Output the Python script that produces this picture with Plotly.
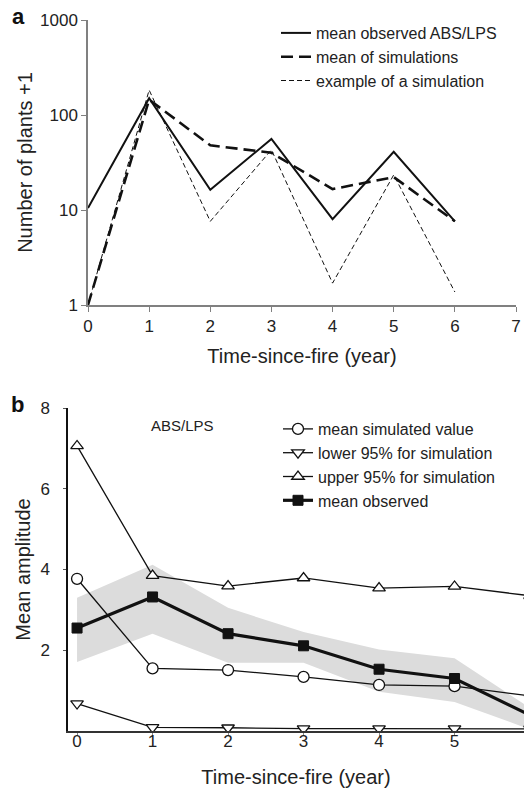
import plotly.graph_objects as go

# ---------- data ----------
years = [0, 1, 2, 3, 4, 5, 6]

# panel a: number of plants + 1 (log scale)
obs_a = [10.5, 150, 16.3, 56, 8.0, 41, 7.6]
sim_mean_a = [1, 145, 48, 40, 16.6, 22.2, 7.6]
sim_example_a = [1, 183, 7.6, 43, 1.7, 23.4, 1.37]
ticks_a_y = [1, 10, 100, 1000]
ticks_a_x = [0, 1, 2, 3, 4, 5, 6, 7]

# panel b: mean amplitude
sim_mean_b = [3.77, 1.55, 1.51, 1.34, 1.14, 1.11, 0.87]
lower95_b = [0.68, 0.09, 0.08, 0.06, 0.06, 0.06, 0.05]
upper95_b = [7.06, 3.85, 3.59, 3.79, 3.54, 3.58, 3.35]
obs_b = [2.55, 3.32, 2.41, 2.11, 1.53, 1.30, 0.39]
band_low_b = [1.71, 2.41, 1.69, 1.69, 0.97, 0.72, 0.04]
band_high_b = [3.30, 4.12, 3.05, 2.45, 2.02, 1.80, 0.57]
ticks_b_y = [2, 4, 6, 8]
ticks_b_x = [0, 1, 2, 3, 4, 5, 6]

FONT = "Liberation Sans, Arial, sans-serif"
W, H = 524, 788

fig = go.Figure()

# ---------- panel a ----------
fig.add_trace(go.Scatter(x=years, y=obs_a, mode="lines", name="mean observed ABS/LPS",
                         line=dict(color="#111", width=2), xaxis="x", yaxis="y",
                         legend="legend"))
fig.add_trace(go.Scatter(x=years, y=sim_mean_a, mode="lines", name="mean of simulations",
                         line=dict(color="#111", width=2.6, dash="12px,6px"),
                         xaxis="x", yaxis="y", legend="legend"))
fig.add_trace(go.Scatter(x=years, y=sim_example_a, mode="lines", name="example of a simulation",
                         line=dict(color="#111", width=1, dash="5px,3px"),
                         xaxis="x", yaxis="y", legend="legend"))

# ---------- panel b ----------
fig.add_trace(go.Scatter(x=years, y=band_low_b, mode="lines", line=dict(width=0, color="#dcdcdc"),
                         showlegend=False, hoverinfo="skip", xaxis="x2", yaxis="y2"))
fig.add_trace(go.Scatter(x=years, y=band_high_b, mode="lines", line=dict(width=0, color="#dcdcdc"),
                         fill="tonexty", fillcolor="#dcdcdc",
                         showlegend=False, hoverinfo="skip", xaxis="x2", yaxis="y2"))
fig.add_trace(go.Scatter(x=years, y=sim_mean_b, mode="lines+markers", name="mean simulated value",
                         line=dict(color="#111", width=1.3),
                         marker=dict(symbol="circle", size=11, color="white",
                                     line=dict(color="#111", width=1.3)),
                         xaxis="x2", yaxis="y2", legend="legend2"))
fig.add_trace(go.Scatter(x=years, y=lower95_b, mode="lines+markers", name="lower 95% for simulation",
                         line=dict(color="#111", width=1.3),
                         marker=dict(symbol="triangle-down", size=11, color="white",
                                     line=dict(color="#111", width=1.3)),
                         xaxis="x2", yaxis="y2", legend="legend2"))
fig.add_trace(go.Scatter(x=years, y=upper95_b, mode="lines+markers", name="upper 95% for simulation",
                         line=dict(color="#111", width=1.3),
                         marker=dict(symbol="triangle-up", size=11, color="white",
                                     line=dict(color="#111", width=1.3)),
                         xaxis="x2", yaxis="y2", legend="legend2"))
fig.add_trace(go.Scatter(x=years, y=obs_b, mode="lines+markers", name="mean observed",
                         line=dict(color="#111", width=3.2),
                         marker=dict(symbol="square", size=10, color="#111",
                                     line=dict(color="#111", width=1)),
                         xaxis="x2", yaxis="y2", legend="legend2"))


def px_x(p):
    """page pixel x -> paper fraction"""
    return p / W


def px_y(p):
    """page pixel y (from top) -> paper fraction (from bottom)"""
    return (H - p) / H


tickfont = dict(family=FONT, size=17, color="#222")
titlefont = dict(family=FONT, size=20, color="#222")

fig.update_layout(
    width=W, height=H,
    margin=dict(l=0, r=0, t=0, b=0, autoexpand=False),
    paper_bgcolor="white", plot_bgcolor="white",
    font=dict(family=FONT, color="#222"),
    xaxis=dict(domain=[px_x(88), px_x(516)], range=[0, 7], anchor="y", automargin=False,
               tickvals=ticks_a_x, showline=True, linecolor="#808080", linewidth=1.5,
               ticks="outside", ticklen=5, tickcolor="#808080", showgrid=False, zeroline=False,
               tickfont=tickfont, ticklabeloverflow="allow",
               title=dict(text="Time-since-fire (year)", font=titlefont, standoff=14)),
    yaxis=dict(domain=[px_y(305), px_y(20)], type="log", range=[0, 3], anchor="x",
               automargin=False,
               tickvals=ticks_a_y, ticktext=[str(v) for v in ticks_a_y],
               showline=True, linecolor="#808080", linewidth=1.5,
               ticks="outside", ticklen=5, tickcolor="#808080", showgrid=False, zeroline=False,
               tickfont=tickfont,
               title=dict(text="Number of plants +1", font=titlefont, standoff=2)),
    xaxis2=dict(domain=[px_x(68), 1.0], range=[-0.12, 5.92], anchor="y2", automargin=False,
                tickvals=ticks_b_x, showline=True, linecolor="#333", linewidth=1.5,
                ticks="outside", ticklen=3, tickcolor="#888", showgrid=False, zeroline=False,
                tickfont=tickfont, ticklabelstandoff=-9,
                title=dict(text="Time-since-fire (year)", font=titlefont, standoff=20)),
    yaxis2=dict(domain=[px_y(731), px_y(408)], range=[0, 8], anchor="x2", automargin=False,
                tickvals=ticks_b_y, showline=True, linecolor="#111", linewidth=1.5,
                ticks="outside", ticklen=3, tickcolor="#555", showgrid=False, zeroline=False,
                tickfont=tickfont, ticklabelstandoff=10,
                title=dict(text="Mean amplitude", font=titlefont, standoff=4)),
    legend=dict(x=px_x(276), y=px_y(16), xanchor="left", yanchor="top",
                traceorder="normal",
                bgcolor="rgba(0,0,0,0)", font=dict(family=FONT, size=16, color="#222"),
                tracegroupgap=0),
    legend2=dict(x=px_x(278), y=px_y(412), xanchor="left", yanchor="top",
                 traceorder="normal",
                 bgcolor="rgba(0,0,0,0)", font=dict(family=FONT, size=16, color="#222"),
                 tracegroupgap=0),
    annotations=[
        dict(text="<b>a</b>", x=px_x(18), y=px_y(17), xref="paper", yref="paper",
             xanchor="center", yanchor="middle",
             showarrow=False, font=dict(family=FONT, size=22, color="#111")),
        dict(text="<b>b</b>", x=px_x(17), y=px_y(404), xref="paper", yref="paper",
             xanchor="center", yanchor="middle",
             showarrow=False, font=dict(family=FONT, size=22, color="#111")),
        dict(text="ABS/LPS", x=1.40, y=7.56, xref="x2", yref="y2",
             xanchor="center", yanchor="middle",
             showarrow=False, font=dict(family=FONT, size=15, color="#222")),
    ],
)

# remove the default 8px page margin so the figure fills the window exactly
fig.write_html("out.html", config={"displayModeBar": False},
               post_script="document.body.style.margin='0';")
